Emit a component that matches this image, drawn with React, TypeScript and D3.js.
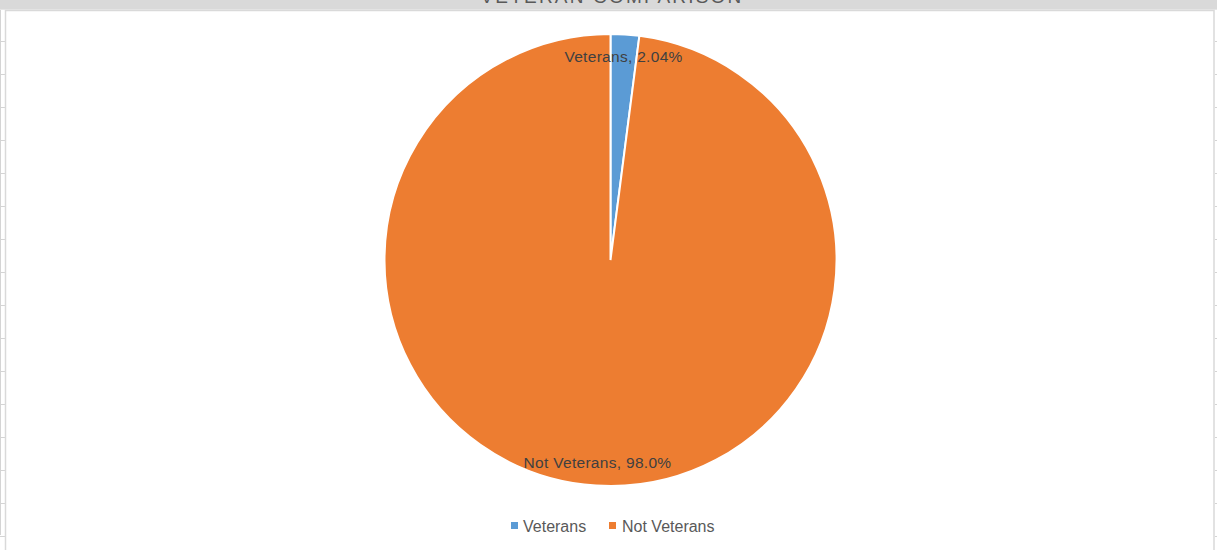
import React from "react";
import * as d3 from "d3";

const categories = ["Veterans", "Not Veterans"];
const values = [2.04, 97.96];
const labelTexts = ["Veterans, 2.04%", "Not Veterans, 98.0%"];
const colors = ["#5b9bd5", "#ed7d31"];
const title = "VETERAN COMPARISON";
const gridRows = d3.range(41, 550, 33);

export default function App() {
  const W = 1217, H = 550;
  const cx = 610.5, cy = 260, r = 226;
  const pie = d3.pie<number>().sort(null).value((d) => d);
  const arcs = pie(values);
  const arcGen = d3.arc<d3.PieArcDatum<number>>().innerRadius(0).outerRadius(r);
  const labelArc = d3.arc<d3.PieArcDatum<number>>().innerRadius(r * 0.9).outerRadius(r * 0.9);
  const font = "'Liberation Sans', Arial, sans-serif";
  return (
    <svg width={W} height={H} style={{ position: "absolute", left: 0, top: 0, background: "#fff" }}>
      {/* spreadsheet background */}
      <rect x={0} y={0} width={W} height={H} fill="#fff" />
      <line x1={0.5} y1={0} x2={0.5} y2={535} stroke="#d4d4d4" strokeWidth={1} />
      {gridRows.map((y) => (
        <g key={y}>
          <line x1={0} y1={y + 0.5} x2={5} y2={y + 0.5} stroke="#d4d4d4" />
          <line x1={1215} y1={y + 0.5} x2={1217} y2={y + 0.5} stroke="#d4d4d4" />
        </g>
      ))}
      {/* top gray band */}
      <rect x={0} y={0} width={W} height={9} fill="#d9d9d9" />
      <line x1={0} y1={9.5} x2={W} y2={9.5} stroke="#e6e6e6" />
      {/* chart border */}
      <rect x={5.5} y={10.5} width={1208.5} height={560} fill="#fff" stroke="#d9d9d9" strokeWidth={1.5} />
      {/* title (clipped at top, as in the reference) */}
      <text x={612} y={3} textAnchor="middle" fontFamily={font} fontSize={19} letterSpacing={2.2} fill="#595959">
        {title}
      </text>
      <g transform={`translate(${cx},${cy})`}>
        {arcs.map((a, i) => (
          <path key={categories[i]} d={arcGen(a) || ""} fill={colors[i]} stroke="#fff" strokeWidth={2} />
        ))}
        {arcs.map((a, i) => {
          const [x, y] = labelArc.centroid(a);
          return (
            <text key={"l" + i} x={x} y={y} dy="0.35em" textAnchor="middle" fontFamily={font} fontSize={15.5} letterSpacing={0.3} fill="#404040">
              {labelTexts[i]}
            </text>
          );
        })}
      </g>
      {/* legend */}
      <g fontFamily={font} fontSize={16} fill="#595959">
        <rect x={511} y={522} width={7} height={7} fill={colors[0]} />
        <text x={523} y={532}>{categories[0]}</text>
        <rect x={609} y={522} width={7} height={7} fill={colors[1]} />
        <text x={622} y={532}>{categories[1]}</text>
      </g>
    </svg>
  );
}
